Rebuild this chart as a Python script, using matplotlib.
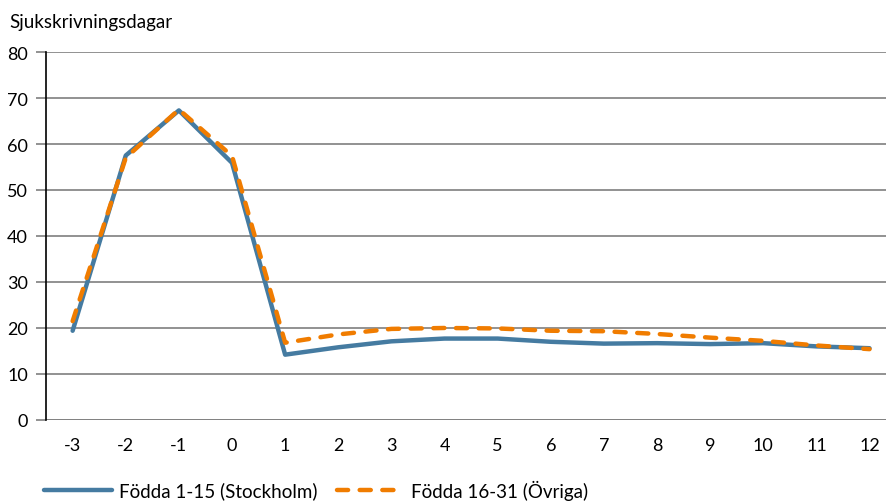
import matplotlib.pyplot as plt

plt.rcParams['font.family'] = ['Lato', 'DejaVu Sans']
plt.rcParams['axes.unicode_minus'] = False

manader = [-3, -2, -1, 0, 1, 2, 3, 4, 5, 6, 7, 8, 9, 10, 11, 12]
stockholm = [19.4, 57.5, 67.3, 55.9, 14.2, 15.8, 17.1, 17.7, 17.7, 17.0, 16.6, 16.7, 16.5, 16.7, 16.0, 15.6]
ovriga = [21.5, 57.0, 67.5, 57.4, 16.8, 18.6, 19.8, 20.0, 19.9, 19.4, 19.3, 18.7, 17.9, 17.2, 16.2, 15.4]

fig = plt.figure(figsize=(8.86, 5.02), dpi=100)
ax = fig.add_axes([0.052, 0.1614, 0.948, 0.733])

ax.plot(manader, stockholm, color="#457ba1", lw=3.2, solid_capstyle="round",
        label="Födda 1-15 (Stockholm)", zorder=3)
ax.plot(manader, ovriga, color="#f07c00", lw=3.2, dashes=(2.5, 2.6),
        dash_capstyle="round", label="Födda 16-31 (Övriga)", zorder=4)

ax.set_xlim(-3.5, 12.31)
ax.set_ylim(0, 80)
ax.set_yticks(range(0, 81, 10))
ax.set_xticks(manader)
ax.yaxis.grid(True, color="#7f7f7f", lw=1.2)
ax.set_axisbelow(True)
for s in ["top", "right", "bottom"]:
    ax.spines[s].set_visible(False)
ax.spines["left"].set_color("black")
ax.spines["left"].set_linewidth(1.2)
ax.tick_params(axis="y", length=7, color="#7f7f7f", width=1.2, labelsize=13, pad=6)
ax.tick_params(axis="x", length=0, labelsize=13, pad=12)
ax.axhline(0, color="#7f7f7f", lw=1.2, zorder=1)

fig.text(0.011, 0.955, "Sjukskrivningsdagar", fontsize=13.5, va="center", ha="left")

ax.legend(loc="lower left", bbox_to_anchor=(-0.022, -0.262), ncol=2, frameon=False,
          fontsize=13.5, handlelength=3.6, columnspacing=1.05, handletextpad=0.35)

fig.savefig("out.png", dpi=100)
